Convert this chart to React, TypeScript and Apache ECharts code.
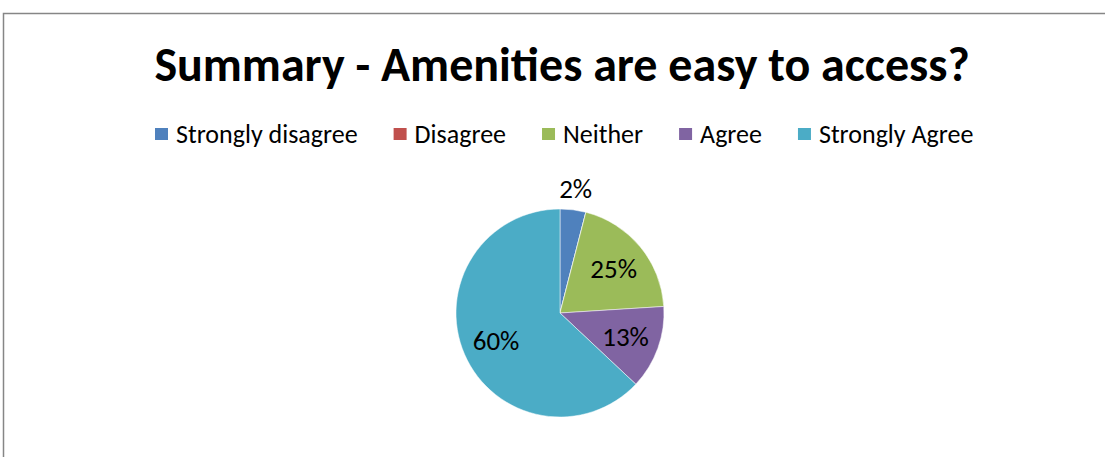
import React, { useEffect, useRef } from "react";
import * as echarts from "echarts";

const titleText = "Summary - Amenities are easy to access?";
const categories = ["Strongly disagree", "Disagree", "Neither", "Agree", "Strongly Agree"];
// slice sizes as drawn in the picture (percent of the circle)
const sliceValues = [4, 0, 20, 13, 63];
// percentage labels as printed on the slices
const sliceLabels = ["2%", "0%", "25%", "13%", "60%"];
const colors = ["#4F81BD", "#C0504D", "#9BBB59", "#8064A2", "#4BACC6"];

const FONT = "Carlito, Lato, 'Open Sans', sans-serif";

export default function App() {
  const ref = useRef<HTMLDivElement>(null);
  useEffect(() => {
    if (!ref.current) return;
    const chart = echarts.init(ref.current, null, { renderer: "svg" });
    const cx = 560;
    const cy = 313;
    const r = 104;
    chart.setOption({
      animation: false,
      backgroundColor: "#ffffff",
      color: colors,
      title: {
        text: titleText,
        left: 557,
        textAlign: "center",
        top: 35,
        textStyle: { fontFamily: FONT, fontWeight: "bold", fontSize: 48, color: "#000" },
      },
      legend: {
        top: 121,
        left: 153,
        padding: 0,
        itemWidth: 15,
        itemHeight: 14,
        itemGap: 34,
        icon: "rect",
        selectedMode: false,
        textStyle: { fontFamily: FONT, fontSize: 26, color: "#000", padding: [0, 0, 0, 2] },
        data: categories,
      },
      graphic: [
        {
          type: "rect",
          shape: { x: 3.5, y: 13.5, width: 1300, height: 700 },
          style: { fill: "none", stroke: "#868686", lineWidth: 1.5 },
          silent: true,
        },
      ],
      series: [
        {
          type: "pie",
          center: [cx, cy],
          radius: [0, r],
          startAngle: 90,
          clockwise: true,
          minShowLabelAngle: 1,
          avoidLabelOverlap: false,
          itemStyle: { borderColor: "#ffffff", borderWidth: 0.5 },
          label: {
            show: true,
            position: "inside",
            fontFamily: FONT,
            fontSize: 27,
            color: "#000",
            formatter: (p: any) => sliceLabels[p.dataIndex],
          },
          labelLine: { show: false },
          labelLayout: (p: any) => {
            const lr = p.labelRect;
            const lx = lr.x + lr.width / 2;
            const ly = lr.y + lr.height / 2;
            const vx = lx - cx;
            const vy = ly - cy;
            const len = Math.sqrt(vx * vx + vy * vy) || 1;
            const d = p.dataIndex === 0 ? 125 : 0.67 * r;
            return {
              x: cx + (vx / len) * d,
              y: cy + (vy / len) * d,
              align: "center",
              verticalAlign: "middle",
            };
          },
          data: categories.map((name, i) => ({ name, value: sliceValues[i] })),
        },
      ],
    });
    return () => chart.dispose();
  }, []);
  return (
    <div
      ref={ref}
      style={{ position: "fixed", left: 0, top: 0, width: 1105, height: 457 }}
    />
  );
}
